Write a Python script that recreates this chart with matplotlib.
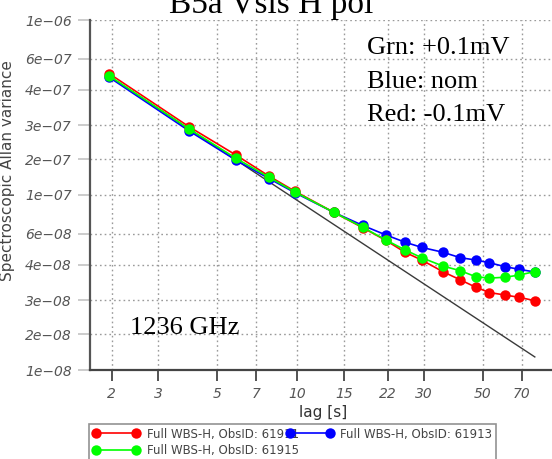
import numpy as np
import matplotlib
matplotlib.use("Agg")
import matplotlib.pyplot as plt
from matplotlib.ticker import FixedLocator, FixedFormatter, NullLocator

# Allan variance versus lag for three bias settings
lags = [1.96, 3.92, 5.88, 7.84, 9.8, 13.72, 17.64, 21.56, 25.48, 29.4,
        35.28, 41.16, 47.04, 52.92, 60.76, 68.6, 78.4]
var_red = [4.93e-7, 2.45e-7, 1.69e-7, 1.28e-7, 1.05e-7, 7.96e-8, 6.5e-8,
           5.5e-8, 4.7e-8, 4.25e-8, 3.65e-8, 3.27e-8, 2.97e-8, 2.77e-8,
           2.68e-8, 2.6e-8, 2.49e-8]
var_green = [4.79e-7, 2.38e-7, 1.62e-7, 1.26e-7, 1.04e-7, 7.96e-8, 6.54e-8,
             5.53e-8, 4.85e-8, 4.38e-8, 3.93e-8, 3.69e-8, 3.41e-8, 3.35e-8,
             3.39e-8, 3.49e-8, 3.65e-8]
var_blue = [4.7e-7, 2.32e-7, 1.58e-7, 1.24e-7, 1.03e-7, 7.96e-8, 6.7e-8,
            5.91e-8, 5.37e-8, 5.02e-8, 4.71e-8, 4.38e-8, 4.25e-8, 4.1e-8,
            3.89e-8, 3.76e-8, 3.63e-8]
# radiometric (white-noise) reference level at the first lag
white_noise_start = 4.75e-7

series_labels = ["Full WBS-H, ObsID: 61911",
                 "Full WBS-H, ObsID: 61915",
                 "Full WBS-H, ObsID: 61913"]

x_ticks = [2, 3, 5, 7, 10, 15, 22, 30, 50, 70]
y_ticks = [1e-8, 1.6e-8, 2.5e-8, 4e-8, 6e-8, 1e-7, 1.6e-7, 2.5e-7, 4e-7, 6e-7, 1e-6]
y_tick_labels = ["1e\u221208", "2e\u221208", "3e\u221208", "4e\u221208", "6e\u221208",
                 "1e\u221207", "2e\u221207", "3e\u221207", "4e\u221207", "6e\u221207",
                 "1e\u221206"]

W, H = 552, 459
fig = plt.figure(figsize=(W / 100, H / 100), dpi=100)
fig.patch.set_facecolor("white")

ax_left, ax_right, ax_top, ax_bottom = 90, 552, 20, 370
ax = fig.add_axes([ax_left / W, 1 - ax_bottom / H,
                   (ax_right - ax_left) / W, (ax_bottom - ax_top) / H])
ax.set_xscale("log")
ax.set_yscale("log")
ax.set_xlim(1.657, 91.0)
ax.set_ylim(1e-8, 1e-6)

lag_arr = np.asarray(lags)
ax.plot(lag_arr, white_noise_start * lag_arr[0] / lag_arr,
        color="#3a3a3a", lw=1.0, zorder=2)

ms = 7.5
l_blue, = ax.plot(lags, var_blue, "-o", color="#0000ff", lw=1.2, ms=ms,
                  markeredgewidth=0, zorder=3, label=series_labels[2])
l_red, = ax.plot(lags, var_red, "-o", color="#ff0000", lw=1.2, ms=ms,
                 markeredgewidth=0, zorder=4, label=series_labels[0])
l_green, = ax.plot(lags, var_green, "-o", color="#00ff00", lw=1.2, ms=ms,
                   markeredgewidth=0, zorder=5, label=series_labels[1])

ax.xaxis.set_major_locator(FixedLocator(x_ticks))
ax.xaxis.set_major_formatter(FixedFormatter([str(v) for v in x_ticks]))
ax.xaxis.set_minor_locator(NullLocator())
ax.yaxis.set_major_locator(FixedLocator(y_ticks))
ax.yaxis.set_major_formatter(FixedFormatter(y_tick_labels))
ax.yaxis.set_minor_locator(NullLocator())

ax.grid(True, which="major", color="#9a9a9a", linestyle=(0, (1.2, 2.2)), lw=1.0)
for s in ("top", "right"):
    ax.spines[s].set_visible(False)
ax.spines["left"].set_color("#555555")
ax.spines["left"].set_linewidth(1.6)
ax.spines["bottom"].set_color("#444444")
ax.spines["bottom"].set_linewidth(1.6)

ax.tick_params(axis="y", direction="out", length=9, width=1.3, color="#c8c8c8", pad=4)
ax.tick_params(axis="x", direction="out", length=8, width=1.3, color="#444444", pad=4)
for lab in ax.get_yticklabels() + ax.get_xticklabels():
    lab.set_fontstyle("italic")
    lab.set_fontsize(10)
    lab.set_color("#555555")

fig.text(323 / W, 1 - 412 / H, "lag [s]", ha="center", va="center",
         fontsize=11, color="#333333")
fig.text(8 / W, 1 - 171 / H, "Spectroscopic Allan variance", rotation=90,
         ha="center", va="center", fontsize=11, color="#444444")

serif = dict(family="Liberation Serif", color="black")
fig.text(271 / W, 1 - 13 / H, "B5a Vsis H pol", ha="center", va="baseline",
         fontsize=24, **serif)
for i, t in enumerate(["Grn: +0.1mV", "Blue: nom", "Red: -0.1mV"]):
    fig.text(367 / W, 1 - (48 + 33.5 * i) / H, t, ha="left", va="center",
             fontsize=19, **serif)
fig.text(130 / W, 1 - 328 / H, "1236 GHz", ha="left", va="center",
         fontsize=19, **serif)

leg = fig.legend(handles=[l_red, l_green, l_blue], labels=series_labels,
                 ncol=2, loc="upper left",
                 bbox_to_anchor=(89 / W, 1 - 424 / H),
                 fontsize=8.5, frameon=True, fancybox=False,
                 handlelength=4.0, handletextpad=0.6, columnspacing=-1.1,
                 borderpad=0.3, labelspacing=0.3, numpoints=2,
                 borderaxespad=0.0)
leg.get_frame().set_edgecolor("#777777")
leg.get_frame().set_linewidth(1.2)
for t in leg.get_texts():
    t.set_color("#444444")
for h in leg.legend_handles:
    h.set_markersize(7.5)

fig.savefig("out.png", dpi=100)
